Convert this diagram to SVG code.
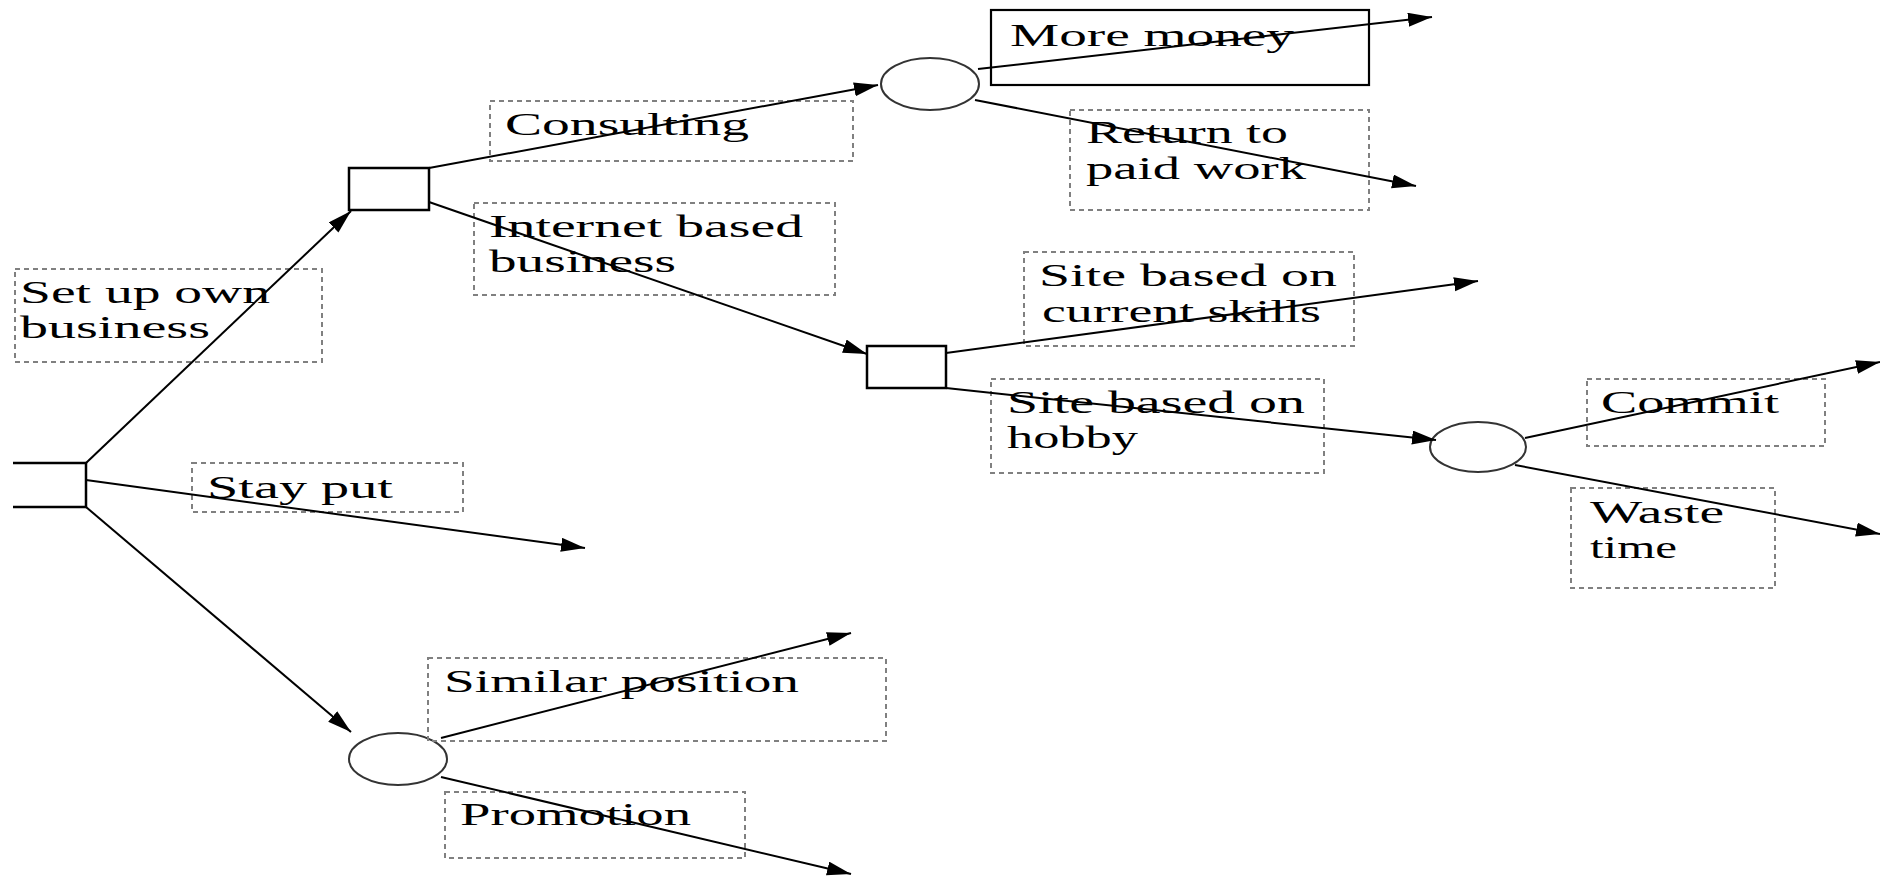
<svg xmlns="http://www.w3.org/2000/svg" width="1880" height="876" viewBox="0 0 1880 876">
<style>
.bg{fill:#fff}
.sq{fill:#fff;stroke:#000;stroke-width:2.5}
.ch{fill:#fff;stroke:#333;stroke-width:2}
.lb{fill:none;stroke:#808080;stroke-width:2;stroke-dasharray:5 4}
.box{fill:none;stroke:#000;stroke-width:2.2}
.t{font-family:"Liberation Serif","Times New Roman",serif;font-size:31px;fill:#000}
.c{fill:none;stroke:#000;stroke-width:2}
</style>
<defs>
<marker id="ah" markerUnits="userSpaceOnUse" markerWidth="26" markerHeight="16" refX="24" refY="7" orient="auto">
<path d="M0,0 L24,7 L0,14 z" fill="#000"/>
</marker>
</defs>
<rect class="bg" x="0" y="0" width="1880" height="876"/>

<g id="root"><path class="sq" d="M13,463 H86 V507 H13"/></g>
<g id="dec-own"><rect class="sq" x="349" y="168" width="80" height="42"/></g>
<g id="dec-internet"><rect class="sq" x="867" y="346" width="79" height="42"/></g>
<g id="chance-consulting"><ellipse class="ch" cx="930" cy="84" rx="49" ry="26"/></g>
<g id="chance-hobby"><ellipse class="ch" cx="1478" cy="447" rx="48" ry="25"/></g>
<g id="chance-stay"><ellipse class="ch" cx="398" cy="759" rx="49" ry="26"/></g>

<g id="lbl-own"><rect class="lb" x="15" y="269" width="307" height="93"/>
<text class="t" x="20" y="303" textLength="250" lengthAdjust="spacingAndGlyphs">Set up own</text>
<text class="t" x="20" y="338" textLength="190" lengthAdjust="spacingAndGlyphs">business</text></g>
<g id="lbl-consulting"><rect class="lb" x="490" y="101" width="363" height="60"/>
<text class="t" x="505" y="135" textLength="244" lengthAdjust="spacingAndGlyphs">Consulting</text></g>
<g id="lbl-internet"><rect class="lb" x="474" y="203" width="361" height="92"/>
<text class="t" x="489" y="237" textLength="314" lengthAdjust="spacingAndGlyphs">Internet based</text>
<text class="t" x="489" y="272" textLength="187" lengthAdjust="spacingAndGlyphs">business</text></g>
<g id="lbl-money"><rect class="box" x="991" y="10" width="378" height="75"/>
<text class="t" x="1010" y="46" textLength="284" lengthAdjust="spacingAndGlyphs">More money</text></g>
<g id="lbl-return"><rect class="lb" x="1070" y="110" width="299" height="100"/>
<text class="t" x="1086" y="143" textLength="202" lengthAdjust="spacingAndGlyphs">Return to</text>
<text class="t" x="1086" y="179" textLength="220" lengthAdjust="spacingAndGlyphs">paid work</text></g>
<g id="lbl-skills"><rect class="lb" x="1024" y="252" width="330" height="94"/>
<text class="t" x="1039" y="286" textLength="298" lengthAdjust="spacingAndGlyphs">Site based on</text>
<text class="t" x="1042" y="322" textLength="279" lengthAdjust="spacingAndGlyphs">current skills</text></g>
<g id="lbl-hobby"><rect class="lb" x="991" y="379" width="333" height="94"/>
<text class="t" x="1007" y="413" textLength="298" lengthAdjust="spacingAndGlyphs">Site based on</text>
<text class="t" x="1007" y="448" textLength="131" lengthAdjust="spacingAndGlyphs">hobby</text></g>
<g id="lbl-commit"><rect class="lb" x="1587" y="379" width="238" height="67"/>
<text class="t" x="1601" y="413" textLength="178" lengthAdjust="spacingAndGlyphs">Commit</text></g>
<g id="lbl-waste"><rect class="lb" x="1571" y="488" width="204" height="100"/>
<text class="t" x="1590" y="523" textLength="134" lengthAdjust="spacingAndGlyphs">Waste</text>
<text class="t" x="1590" y="558" textLength="87" lengthAdjust="spacingAndGlyphs">time</text></g>
<g id="lbl-stay"><rect class="lb" x="192" y="463" width="271" height="49"/>
<text class="t" x="207" y="498" textLength="186" lengthAdjust="spacingAndGlyphs">Stay put</text></g>
<g id="lbl-similar"><rect class="lb" x="428" y="658" width="458" height="83"/>
<text class="t" x="444" y="692" textLength="355" lengthAdjust="spacingAndGlyphs">Similar position</text></g>
<g id="lbl-promotion"><rect class="lb" x="445" y="792" width="300" height="66"/>
<text class="t" x="460" y="825" textLength="231" lengthAdjust="spacingAndGlyphs">Promotion</text></g>

<g id="connectors">
<line class="c" x1="86" y1="463" x2="351" y2="211" marker-end="url(#ah)"/>
<line class="c" x1="86" y1="507" x2="351" y2="732" marker-end="url(#ah)"/>
<line class="c" x1="86" y1="480" x2="585" y2="548" marker-end="url(#ah)"/>
<line class="c" x1="429" y1="168" x2="878" y2="85" marker-end="url(#ah)"/>
<line class="c" x1="429" y1="202" x2="867" y2="354" marker-end="url(#ah)"/>
<line class="c" x1="978" y1="69" x2="1432" y2="17" marker-end="url(#ah)"/>
<line class="c" x1="975" y1="100" x2="1416" y2="186" marker-end="url(#ah)"/>
<line class="c" x1="946" y1="353" x2="1478" y2="281" marker-end="url(#ah)"/>
<line class="c" x1="946" y1="388" x2="1436" y2="440" marker-end="url(#ah)"/>
<line class="c" x1="1525" y1="438" x2="1880" y2="362" marker-end="url(#ah)"/>
<line class="c" x1="1515" y1="465" x2="1880" y2="534" marker-end="url(#ah)"/>
<line class="c" x1="441" y1="738" x2="851" y2="633" marker-end="url(#ah)"/>
<line class="c" x1="441" y1="777" x2="851" y2="874" marker-end="url(#ah)"/>
</g>
</svg>
